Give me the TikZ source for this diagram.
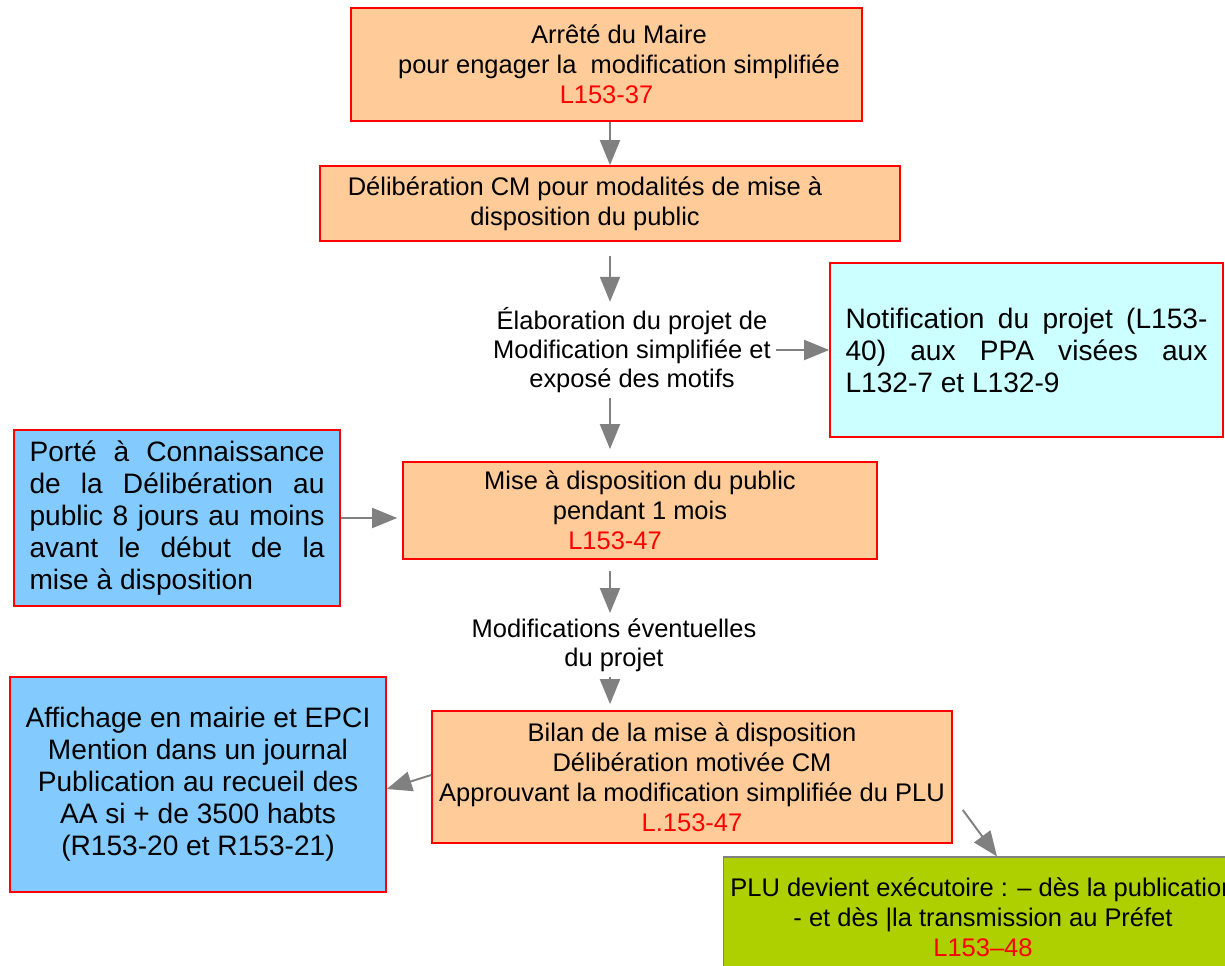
\documentclass[tikz,border=0pt]{standalone}
\usepackage{fontspec}
\setmainfont{Liberation Sans}
\usepackage{xcolor}
\usepackage{tikz}
\usetikzlibrary{arrows.meta}
\definecolor{boxorange}{HTML}{FFCC99}
\definecolor{boxblue}{HTML}{83CAFF}
\definecolor{boxcyan}{HTML}{CCFFFF}
\definecolor{boxgreen}{HTML}{AECF00}
\definecolor{arrowgray}{HTML}{808080}

\begin{document}
\begin{tikzpicture}[x=0.02cm, y=-0.02cm]
        \tikzset{box/.style = {draw=red, line width=1pt, align=center, inner sep=0pt, font=\fontsize{14.5}{17.1}\selectfont}}
        \tikzset{orangebox/.style = {box, fill=boxorange}}
        \tikzset{bluebox/.style = {box, fill=boxblue, font=\fontsize{16}{18.2}\selectfont}}
        \tikzset{justbox/.style = {box, align=justify, inner xsep=0.31cm, font=\fontsize{16}{18.2}\selectfont}}
        \tikzset{freetext/.style = {align=center, inner sep=0.1cm, font=\fontsize{14.5}{16.6}\selectfont}}
        \tikzset{arr/.style = {draw=arrowgray, line width=1.1pt, -{Triangle[length=0.5cm, width=0.4cm]}}}

        \useasboundingbox (0,0) rectangle (1225,966);
        \clip (0,0) rectangle (1225,966);

        \node[orangebox, minimum width=10.22cm, minimum height=2.26cm] (arrete) at (606.5,64.5)
            {\hspace*{0.5cm}Arrêté du Maire\\\hspace*{0.5cm}pour engager la\ \ modification simplifiée\\\textcolor{red}{L153-37}};
        \node[orangebox, minimum width=11.6cm, minimum height=1.5cm] (delib) at (610,203.5)
            {Délibération CM pour modalités de mise à\hspace*{1cm}\\disposition du public\hspace*{1cm}};
        \node[freetext] (elab) at (632,350)
            {Élaboration du projet de\\Modification simplifiée et\\exposé des motifs};
        \node[justbox, fill=boxcyan, text width=7.24cm, minimum height=3.48cm] (notif) at (1026.5,350)
            {Notification du projet (L153-\linebreak 40) aux PPA visées aux\linebreak L132-7 et L132-9};
        \node[orangebox, minimum width=9.48cm, minimum height=1.94cm] (mise) at (640,510.5)
            {Mise à disposition du public\\pendant 1 mois\\\textcolor{red}{L153-47}\hspace*{1cm}};
        \node[justbox, fill=boxblue, text width=5.9cm, minimum height=3.52cm] (porte) at (177,518)
            {Porté à Connaissance\linebreak de la Délibération au\linebreak public 8 jours au moins\linebreak avant le début de la\linebreak mise à disposition};
        \node[freetext] (modif) at (614,645)
            {Modifications éventuelles\\du projet};
        \node[orangebox, minimum width=10.4cm, minimum height=2.64cm] (bilan) at (692,777)
            {Bilan de la mise à disposition\\Délibération motivée CM\\Approuvant la modification simplifiée du PLU\\\textcolor{red}{L.153-47}};
        \node[bluebox, minimum width=7.52cm, minimum height=4.3cm] (affich) at (198,784.5)
            {Affichage en mairie et EPCI\\Mention dans un journal\\Publication au recueil des\\AA si + de 3500 habts\\(R153-20 et R153-21)};
        \node[box, draw=arrowgray, line width=0.6pt, fill=boxgreen, minimum width=10.4cm, minimum height=2.4cm] (plu) at (983,917)
            {PLU devient exécutoire : – dès la publication\\- et dès |la transmission au Préfet\\\textcolor{red}{L153–48}};

        % arrows
        \draw[arr] (arrete.south -| delib.north) -- (delib.north);
        \draw[arr, shorten <=0.28cm] (delib.south) -- (delib.south |- elab.north);
        \draw[arr] (elab) -- (notif);
        \draw[arr, shorten >=0.24cm] (delib.south |- elab.south) -- (delib.south |- mise.north);
        \draw[arr, shorten >=0.1cm] (porte.east) -- (mise.west |- porte.east);
        \draw[arr, shorten <=0.22cm] (mise.south -| delib.south) -- (delib.south |- modif.north);
        \draw[arr, shorten >=0.12cm] (delib.south |- modif.south) -- (delib.south |- bilan.north);
        \draw[arr] ([shift={(0,-2)}]bilan.west) -- ([shift={(0,4.5)}]affich.east);
        \draw[arr] ([shift={(10,33)}]bilan.east) -- ([shift={(14,0)}]plu.north);

    \end{tikzpicture}
\end{document}
